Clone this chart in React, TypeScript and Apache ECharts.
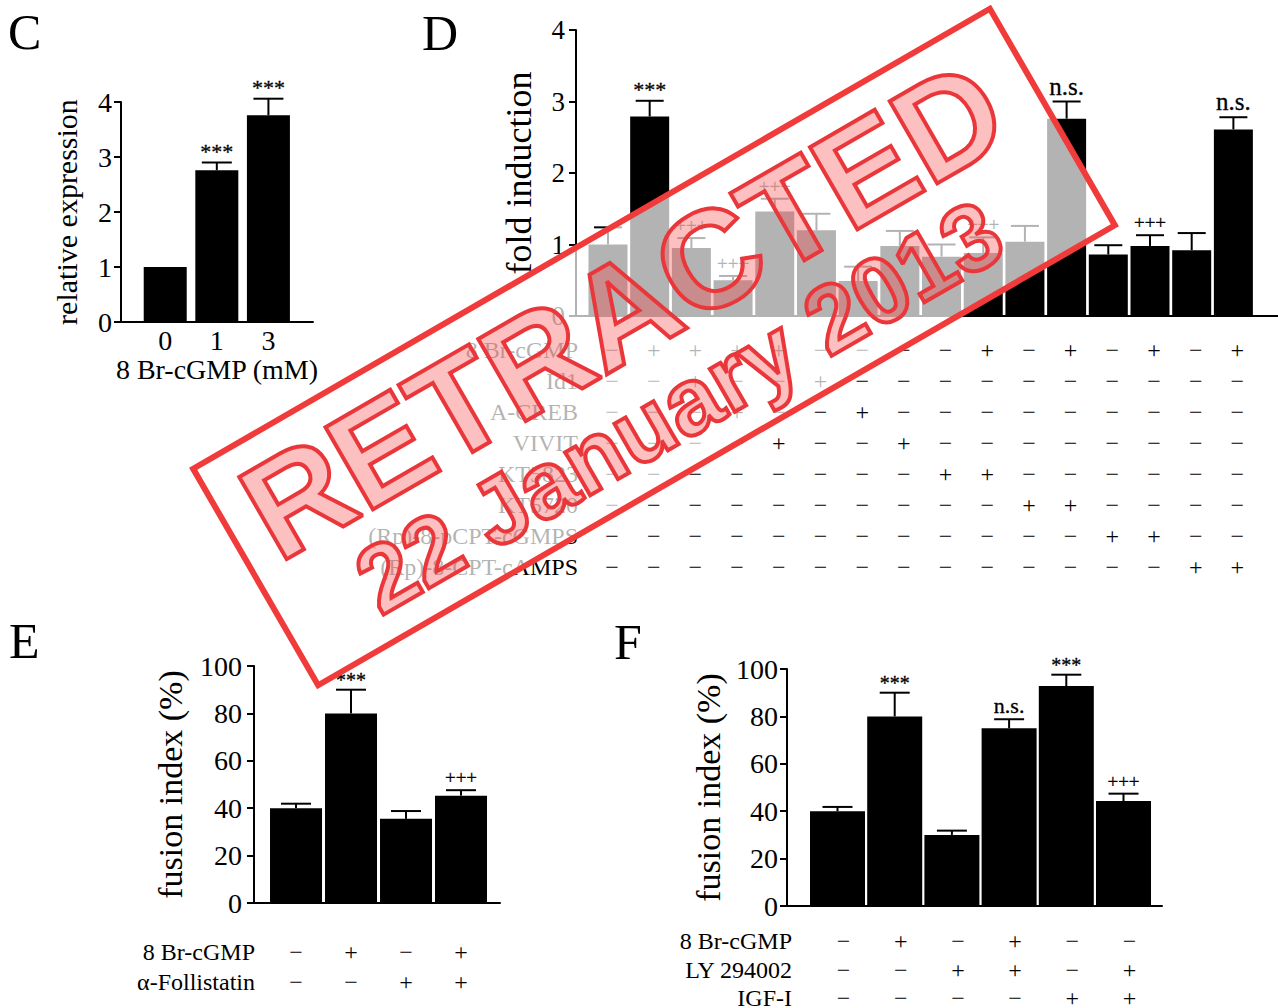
import React, { useEffect, useRef } from "react";
import * as echarts from "echarts";

// ---------------- data ----------------
const C_CATEGORIES = ["0", "1", "3"];
const C_VALUES = [1.0, 2.76, 3.76];
const C_ERRORS = [0, 0.14, 0.3];
const C_MARKS = ["", "***", "***"];

const D_VALUES = [1.0, 2.79, 0.95, 0.5, 1.46, 1.2, 0.49, 0.98, 0.83, 0.88, 1.04, 2.76, 0.86, 0.98, 0.92, 2.61];
const D_ERRORS = [0.24, 0.22, 0.14, 0.06, 0.18, 0.23, 0.2, 0.21, 0.17, 0.22, 0.22, 0.24, 0.13, 0.15, 0.24, 0.17];
const D_MARKS = ["", "***", "+++", "+++", "+++", "", "", "", "", "+++", "", "n.s.", "", "+++", "", "n.s."];
const D_ROW_NAMES = ["8 Br-cGMP", "Id1", "A-CREB", "VIVIT", "KT5823", "KT5720", "(Rp)-8-pCPT-cGMPS", "(Rp)-8-CPT-cAMPS"];
const D_TABLE = [
  "-++++----+-+-+-+",
  "--+--+----------",
  "---+--+---------",
  "----+--+--------",
  "--------++------",
  "----------++----",
  "------------++--",
  "--------------++",
];

const E_VALUES = [40, 80, 35.5, 45.3];
const E_ERRORS = [1.9, 10, 3.3, 2.3];
const E_MARKS = ["", "***", "", "+++"];
const E_ROW_NAMES = ["8 Br-cGMP", "\u03b1-Follistatin"];
const E_TABLE = ["-+-+", "--++"];

const F_VALUES = [40, 80, 30, 75, 92.8, 44.3];
const F_ERRORS = [1.8, 10, 1.8, 3.8, 4.8, 3.1];
const F_MARKS = ["", "***", "", "n.s.", "***", "+++"];
const F_ROW_NAMES = ["8 Br-cGMP", "LY 294002", "IGF-I"];
const F_TABLE = ["-+-+--", "--++-+", "----++"];

const SERIF = '"Liberation Serif", "Times New Roman", serif';
const SANS = '"Liberation Sans", Arial, sans-serif';

const signRows = (table: string[]) =>
  table.map((row) => row.split("").map((ch) => (ch === "+" ? "+" : "\u2212")));

type Panel = {
  values: number[];
  errors: number[];
  marks: string[];
  rowNames: string[];
  cells: string[][];
  grid: { left: number; top: number; width: number; height: number };
  xMin: number;
  xMax: number;
  yMax: number;
  yInterval: number;
  barWidth: number;
  capWidth: number;
  tickFont: number;
  tickMargin: number;
  yName: string;
  yNameFont: number;
  yNameGap: number;
  xName?: string;
  xNameGap?: number;
  rowFirst: number;
  rowGap: number;
  rowFont: number;
  signDx: number;
  labelDx: number;
  markSizes: Record<string, number>;
};

const PANELS: Panel[] = [
  {
    values: C_VALUES, errors: C_ERRORS, marks: C_MARKS,
    rowNames: [], cells: [C_CATEGORIES],
    grid: { left: 121, top: 102, width: 192, height: 220 },
    xMin: -0.857, xMax: 2.864, yMax: 4, yInterval: 1,
    barWidth: 43, capWidth: 30, tickFont: 28, tickMargin: 9,
    yName: "relative expression", yNameFont: 30, yNameGap: 40,
    xName: "8 Br-cGMP (mM)", xNameGap: 33,
    rowFirst: 18, rowGap: 0, rowFont: 28, signDx: 0, labelDx: 0,
    markSizes: { "***": 22 },
  },
  {
    values: D_VALUES, errors: D_ERRORS, marks: D_MARKS,
    rowNames: D_ROW_NAMES, cells: signRows(D_TABLE),
    grid: { left: 576, top: 30, width: 702, height: 286 },
    xMin: -0.767, xMax: 16.07, yMax: 4, yInterval: 1,
    barWidth: 39, capWidth: 28, tickFont: 27, tickMargin: 11,
    yName: "fold induction", yNameFont: 36, yNameGap: 39,
    rowFirst: 34, rowGap: 31, rowFont: 24, signDx: 4, labelDx: 2,
    markSizes: { "***": 22, "+++": 19, "n.s.": 25 },
  },
  {
    values: E_VALUES, errors: E_ERRORS, marks: E_MARKS,
    rowNames: E_ROW_NAMES, cells: signRows(E_TABLE),
    grid: { left: 254, top: 666, width: 246, height: 237 },
    xMin: -0.764, xMax: 3.709, yMax: 100, yInterval: 20,
    barWidth: 52, capWidth: 30, tickFont: 28, tickMargin: 12,
    yName: "fusion index (%)", yNameFont: 34, yNameGap: 67,
    rowFirst: 49, rowGap: 30, rowFont: 24, signDx: 0, labelDx: 1,
    markSizes: { "***": 20, "+++": 19, "n.s.": 22 },
  },
  {
    values: F_VALUES, errors: F_ERRORS, marks: F_MARKS,
    rowNames: F_ROW_NAMES, cells: signRows(F_TABLE),
    grid: { left: 787, top: 669, width: 375, height: 237 },
    xMin: -0.883, xMax: 5.673, yMax: 100, yInterval: 20,
    barWidth: 55, capWidth: 30, tickFont: 28, tickMargin: 9,
    yName: "fusion index (%)", yNameFont: 34, yNameGap: 62,
    rowFirst: 35, rowGap: 28.5, rowFont: 24, signDx: 6, labelDx: 5,
    markSizes: { "***": 20, "+++": 19, "n.s.": 22 },
  },
];

const LETTERS = [
  { t: "C", x: 8, y: 32 },
  { t: "D", x: 422, y: 33 },
  { t: "E", x: 9, y: 641 },
  { t: "F", x: 614, y: 642 },
];

function buildOption() {
  const grid: any[] = [];
  const xAxis: any[] = [];
  const yAxis: any[] = [];
  const series: any[] = [];

  PANELS.forEach((p, k) => {
    grid.push({ ...p.grid, containLabel: false });
    xAxis.push({
      type: "value",
      gridIndex: k,
      min: p.xMin,
      max: p.xMax,
      axisLine: { show: true, onZero: false, lineStyle: { color: "#000", width: 2 } },
      axisTick: { show: false },
      axisLabel: { show: false },
      splitLine: { show: false },
      name: p.xName || "",
      nameLocation: "middle",
      nameGap: p.xNameGap || 0,
      nameTextStyle: { color: "#000", fontFamily: SERIF, fontSize: 28 },
    });
    yAxis.push({
      type: "value",
      gridIndex: k,
      min: 0,
      max: p.yMax,
      interval: p.yInterval,
      axisLine: { show: true, onZero: false, lineStyle: { color: "#000", width: 2 } },
      axisTick: { show: true, length: 7, lineStyle: { color: "#000", width: 2 } },
      axisLabel: { color: "#000", fontFamily: SERIF, fontSize: p.tickFont, margin: p.tickMargin },
      splitLine: { show: false },
      name: p.yName,
      nameLocation: "middle",
      nameGap: p.yNameGap,
      nameTextStyle: { color: "#000", fontFamily: SERIF, fontSize: p.yNameFont },
    });

    // bars
    series.push({
      type: "bar",
      xAxisIndex: k,
      yAxisIndex: k,
      barWidth: p.barWidth,
      silent: true,
      itemStyle: { color: "#000" },
      data: p.values.map((v, i) => [i, v]),
    });

    // error bars + significance marks
    series.push({
      type: "custom",
      xAxisIndex: k,
      yAxisIndex: k,
      silent: true,
      z: 5,
      encode: { x: 0, y: 1 },
      data: p.values.map((v, i) => [i, v, p.errors[i]]),
      renderItem: (params: any, api: any) => {
        const i = api.value(0);
        const v = api.value(1);
        const e = api.value(2);
        const base = api.coord([i, v]);
        const top = api.coord([i, v + e]);
        const children: any[] = [];
        if (e > 0) {
          children.push({
            type: "line",
            shape: { x1: base[0], y1: base[1], x2: top[0], y2: top[1] },
            style: { stroke: "#000", lineWidth: 2 },
          });
          children.push({
            type: "line",
            shape: { x1: top[0] - p.capWidth / 2, y1: top[1], x2: top[0] + p.capWidth / 2, y2: top[1] },
            style: { stroke: "#000", lineWidth: 2 },
          });
        }
        const mark = p.marks[params.dataIndex];
        if (mark) {
          const size = p.markSizes[mark] || 20;
          children.push({
            type: "text",
            x: top[0],
            y: top[1] - (mark === "***" ? 0 : 3),
            style: {
              text: mark,
              fill: "#000",
              stroke: "#000",
              lineWidth: 0.3,
              font: `${size}px ${SERIF}`,
              align: "center",
              verticalAlign: "bottom",
            },
          });
        }
        return { type: "group", children };
      },
    });

    // treatment table / category labels
    const cellData: any[] = [];
    const cellText: string[] = [];
    p.cells.forEach((row, r) =>
      row.forEach((txt, c) => {
        cellData.push([c, r]);
        cellText.push(txt);
      })
    );
    series.push({
      type: "custom",
      xAxisIndex: k,
      yAxisIndex: k,
      silent: true,
      encode: { x: 0, y: 1 },
      data: cellData,
      renderItem: (params: any, api: any) => {
        const c = api.value(0);
        const r = api.value(1);
        const pt = api.coord([c, 0]);
        return {
          type: "text",
          x: pt[0] + p.signDx,
          y: pt[1] + p.rowFirst + r * p.rowGap,
          style: {
            text: cellText[params.dataIndex],
            fill: "#000",
            font: `${p.rowFont}px ${SERIF}`,
            align: "center",
            verticalAlign: "middle",
          },
        };
      },
    });

    if (p.rowNames.length) {
      series.push({
        type: "custom",
        xAxisIndex: k,
        yAxisIndex: k,
        silent: true,
        encode: { x: 0, y: 1 },
        data: p.rowNames.map((_, r) => [p.xMin, r]),
        renderItem: (params: any, api: any) => {
          const r = api.value(1);
          const pt = api.coord([p.xMin, 0]);
          return {
            type: "text",
            x: pt[0] + p.labelDx,
            y: pt[1] + p.rowFirst + r * p.rowGap,
            style: {
              text: p.rowNames[params.dataIndex],
              fill: "#000",
              font: `${p.rowFont}px ${SERIF}`,
              align: "right",
              verticalAlign: "middle",
            },
          };
        },
      });
    }
  });

  const graphic: any[] = LETTERS.map((l) => ({
    type: "text",
    x: l.x,
    y: l.y,
    z: 50,
    style: { text: l.t, fill: "#000", font: `50px ${SERIF}`, align: "left", verticalAlign: "middle" },
  }));

  graphic.push({
    type: "group",
    x: 654,
    y: 347,
    rotation: Math.PI / 6,
    z: 100,
    children: [
      {
        type: "rect",
        z: 100,
        shape: { x: -460, y: -125, width: 920, height: 250 },
        style: { fill: "rgba(255,255,255,0.7)", stroke: "#f13b3b", lineWidth: 6 },
      },
      {
        type: "text",
        z: 101,
        x: -8,
        y: -48,
        style: {
          text: "RETRACTED",
          font: `bold 138px ${SANS}`,
          fill: "rgba(245,60,60,0.32)",
          stroke: "#e8363b",
          lineWidth: 4,
          align: "center",
          verticalAlign: "middle",
        },
      },
      {
        type: "text",
        z: 101,
        x: -8,
        y: 64,
        style: {
          text: "22 January 2013",
          font: `bold 94px ${SANS}`,
          fill: "rgba(245,60,60,0.32)",
          stroke: "#e8363b",
          lineWidth: 4,
          align: "center",
          verticalAlign: "middle",
        },
      },
    ],
  });

  return {
    animation: false,
    backgroundColor: "#ffffff",
    textStyle: { fontFamily: SERIF, color: "#000" },
    grid,
    xAxis,
    yAxis,
    series,
    graphic,
  };
}

export default function App() {
  const ref = useRef<HTMLDivElement>(null);
  useEffect(() => {
    if (!ref.current) return;
    const chart = echarts.init(ref.current, null, { renderer: "svg" });
    chart.setOption(buildOption() as any);
    return () => chart.dispose();
  }, []);
  return (
    <div
      ref={ref}
      style={{ position: "fixed", left: 0, top: 0, width: 1278, height: 1008, background: "#fff" }}
    />
  );
}
